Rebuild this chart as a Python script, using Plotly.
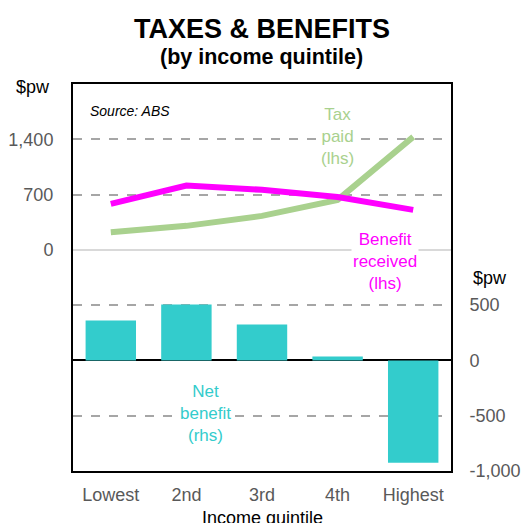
import plotly.graph_objects as go

# Weekly amounts ($ per week) by income quintile
quintiles = ["Lowest", "2nd", "3rd", "4th", "Highest"]
tax_paid = [224, 304, 430, 633, 1430]
benefit_received = [582, 814, 760, 670, 506]
net_benefit = [360, 505, 324, 35, -925]

lhs_ticks = [0, 700, 1400]
lhs_ticktext = ["0", "700", "1,400"]
rhs_ticks = [-1000, -500, 0, 500]
rhs_ticktext = ["-1,000", "-500", "0", "500"]

FONT = "Arial, Liberation Sans, sans-serif"
TEAL = "#33cccc"
GREEN = "#a9d18e"
MAGENTA = "#ff00ff"
GRID = "#a6a6a6"
TICK_GREY = "#595959"

fig = go.Figure()

fig.add_trace(go.Bar(
    x=quintiles, y=net_benefit, yaxis="y2",
    marker=dict(color=TEAL, line=dict(width=0)),
    width=0.667, showlegend=False,
))
fig.add_trace(go.Scatter(
    x=quintiles, y=tax_paid, mode="lines",
    line=dict(color=GREEN, width=6), showlegend=False,
))
fig.add_trace(go.Scatter(
    x=quintiles, y=benefit_received, mode="lines",
    line=dict(color=MAGENTA, width=6), showlegend=False,
))

label_font = dict(family=FONT, size=17)
annotations = [
    dict(text="<b>TAXES & BENEFITS</b>", xref="paper", yref="paper",
         x=0.4987, y=1.1434, showarrow=False, xanchor="center", yanchor="middle",
         font=dict(family=FONT, size=27, color="black")),
    dict(text="<b>(by income quintile)</b>", xref="paper", yref="paper",
         x=0.4987, y=1.0685, showarrow=False, xanchor="center", yanchor="middle",
         font=dict(family=FONT, size=21.5, color="black")),
    dict(text="$pw", xref="paper", yref="paper", x=-0.106, y=0.992,
         showarrow=False, xanchor="center", yanchor="middle",
         font=dict(family=FONT, size=18, color="black")),
    dict(text="$pw", xref="paper", yref="paper", x=1.103, y=0.499,
         showarrow=False, xanchor="center", yanchor="middle",
         font=dict(family=FONT, size=18, color="black")),
    dict(text="<i>Source: ABS</i>", xref="paper", yref="paper", x=0.04, y=0.93,
         showarrow=False, xanchor="left", yanchor="middle",
         font=dict(family=FONT, size=14, color="black")),
    dict(text="Income quintile", xref="paper", yref="paper", x=0.5, y=-0.121,
         showarrow=False, xanchor="center", yanchor="middle",
         font=dict(family=FONT, size=18, color="black")),
    dict(text="Tax<br>paid<br>(lhs)", x=3.0, y=1430, xref="x", yref="y",
         showarrow=False, xanchor="center", yanchor="middle",
         bgcolor="white", font=dict(label_font, color=GREEN)),
    dict(text="Benefit<br>received<br>(lhs)", x=3.63, y=-152, xref="x", yref="y",
         showarrow=False, xanchor="center", yanchor="middle",
         bgcolor="white", font=dict(label_font, color=MAGENTA)),
    dict(text="Net<br>benefit<br>(rhs)", x=1.25, y=-480, xref="x", yref="y2",
         showarrow=False, xanchor="center", yanchor="middle",
         bgcolor="white", font=dict(label_font, color=TEAL)),
]

fig.update_layout(
    width=523, height=523,
    margin=dict(l=73, r=72, t=84, b=52),
    paper_bgcolor="white", plot_bgcolor="white",
    font=dict(family=FONT, size=18, color=TICK_GREY),
    xaxis=dict(
        type="category", range=[-0.5, 4.5], automargin=False,
        showline=True, mirror=True, linecolor="black", linewidth=2,
        showgrid=False, ticks="outside", ticklen=6, tickcolor="rgba(0,0,0,0)",
        tickfont=dict(family=FONT, size=18, color=TICK_GREY),
    ),
    yaxis=dict(
        range=[-2800, 2100], tickvals=lhs_ticks, ticktext=lhs_ticktext,
        automargin=False,
        showline=True, mirror=True, linecolor="black", linewidth=2,
        showgrid=True, gridcolor=GRID, griddash="dash", gridwidth=1.5,
        zeroline=True, zerolinecolor="#d9d9d9", zerolinewidth=2,
        ticks="outside", ticklen=14, tickcolor="rgba(0,0,0,0)",
        tickfont=dict(family=FONT, size=18, color=TICK_GREY),
    ),
    yaxis2=dict(
        overlaying="y", side="right", automargin=False,
        range=[-1000, 2500], tickvals=rhs_ticks, ticktext=rhs_ticktext,
        showline=False,
        showgrid=True, gridcolor=GRID, griddash="dash", gridwidth=1.5,
        zeroline=True, zerolinecolor="black", zerolinewidth=2,
        ticks="outside", ticklen=14, tickcolor="rgba(0,0,0,0)",
        tickfont=dict(family=FONT, size=18, color=TICK_GREY),
    ),
    annotations=annotations,
)

fig.write_html("out.html")
